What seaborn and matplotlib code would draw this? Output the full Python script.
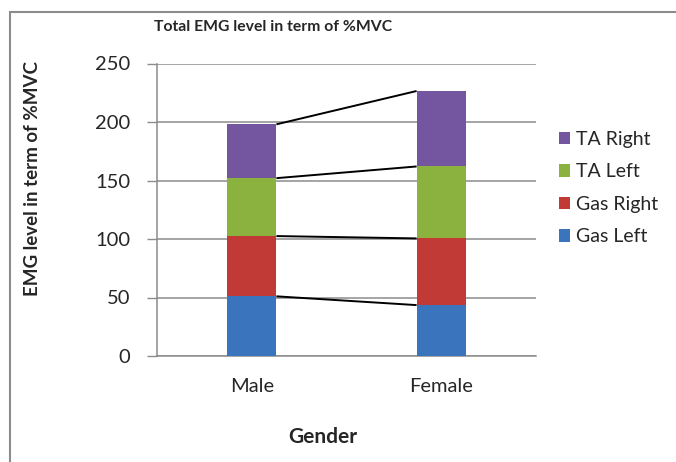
import matplotlib
matplotlib.use("Agg")
import matplotlib.pyplot as plt
import seaborn as sns
import numpy as np
import pandas as pd
from matplotlib.patches import Rectangle, Patch

genders = ["Male", "Female"]
series = ["Gas Left", "Gas Right", "TA Left", "TA Right"]
gas_left = [51.0, 43.5]
gas_right = [51.5, 57.0]
ta_left = [49.5, 61.5]
ta_right = [46.0, 64.5]
colors = ["#3A74BC", "#C23A35", "#8BB23F", "#7355A0"]

title = "Total EMG level in term of %MVC"
ylabel = "EMG level in term of %MVC"
xlabel = "Gender"
yticks = [0, 50, 100, 150, 200, 250]

sns.set_theme(style="white")
plt.rcParams["font.family"] = ["Lato", "DejaVu Sans"]

values = np.array([gas_left, gas_right, ta_left, ta_right])
cum = np.cumsum(values, axis=0)

fig = plt.figure(figsize=(6.76, 4.62), dpi=100)
ax = fig.add_axes([157/676, 1-356/462, (536-157)/676, (356-63.5)/462])

bw = 0.26
# draw cumulative totals from top down so each lower segment overlays
for i in range(len(series) - 1, -1, -1):
    df = pd.DataFrame({"Gender": genders, "val": cum[i]})
    sns.barplot(data=df, x="Gender", y="val", color=colors[i], width=bw,
                saturation=1, ax=ax, zorder=3, edgecolor="none", linewidth=0)

# series lines connecting segment tops
for i in range(len(series)):
    ax.plot([0 + bw/2, 1 - bw/2], [cum[i][0], cum[i][1]], color="black",
            lw=1.4, zorder=4, solid_capstyle="butt")

ax.set_ylim(0, 250)
ax.set_xlim(-0.5, 1.5)
ax.set_yticks(yticks)
ax.set_yticklabels([str(t) for t in yticks], fontsize=14.5)
ax.tick_params(axis="y", which="major", direction="out", length=7, width=1,
               color="#8C8C8C", pad=12, left=True)
ax.tick_params(axis="x", length=0, labelsize=14.5, pad=16)
ax.yaxis.grid(True, color="#8C8C8C", lw=1.1, zorder=0)
ax.xaxis.grid(False)
for s in ["top", "right"]:
    ax.spines[s].set_visible(False)
for s in ["left", "bottom"]:
    ax.spines[s].set_color("#8C8C8C")
    ax.spines[s].set_linewidth(1.1)
ax.set_xlabel("")
ax.set_ylabel("")

fig.text(273/676, 1-27/462, title, ha="center", va="center",
         fontsize=11.3, fontweight="bold")
fig.text(33/676, 1-178/462, ylabel, ha="center", va="center", rotation=90,
         fontsize=13.5, fontweight="bold")
fig.text(323/676, 1-437/462, xlabel, ha="center", va="center",
         fontsize=15, fontweight="bold")

handles = [Patch(facecolor=colors[i], edgecolor="none", label=series[i])
           for i in range(len(series) - 1, -1, -1)]
leg = fig.legend(handles=handles, loc="upper left",
                 bbox_to_anchor=(549/676, 1-121/462), frameon=False,
                 fontsize=14, handlelength=0.6, handleheight=0.6,
                 handletextpad=0.3, labelspacing=0.8, borderpad=0)

fig.add_artist(Rectangle((10/676, -0.5), 2.0, 1.5 - 12/462,
                         transform=fig.transFigure, fill=False,
                         edgecolor="#8C8C8C", lw=1.5))

fig.savefig("out.png", dpi=100)
